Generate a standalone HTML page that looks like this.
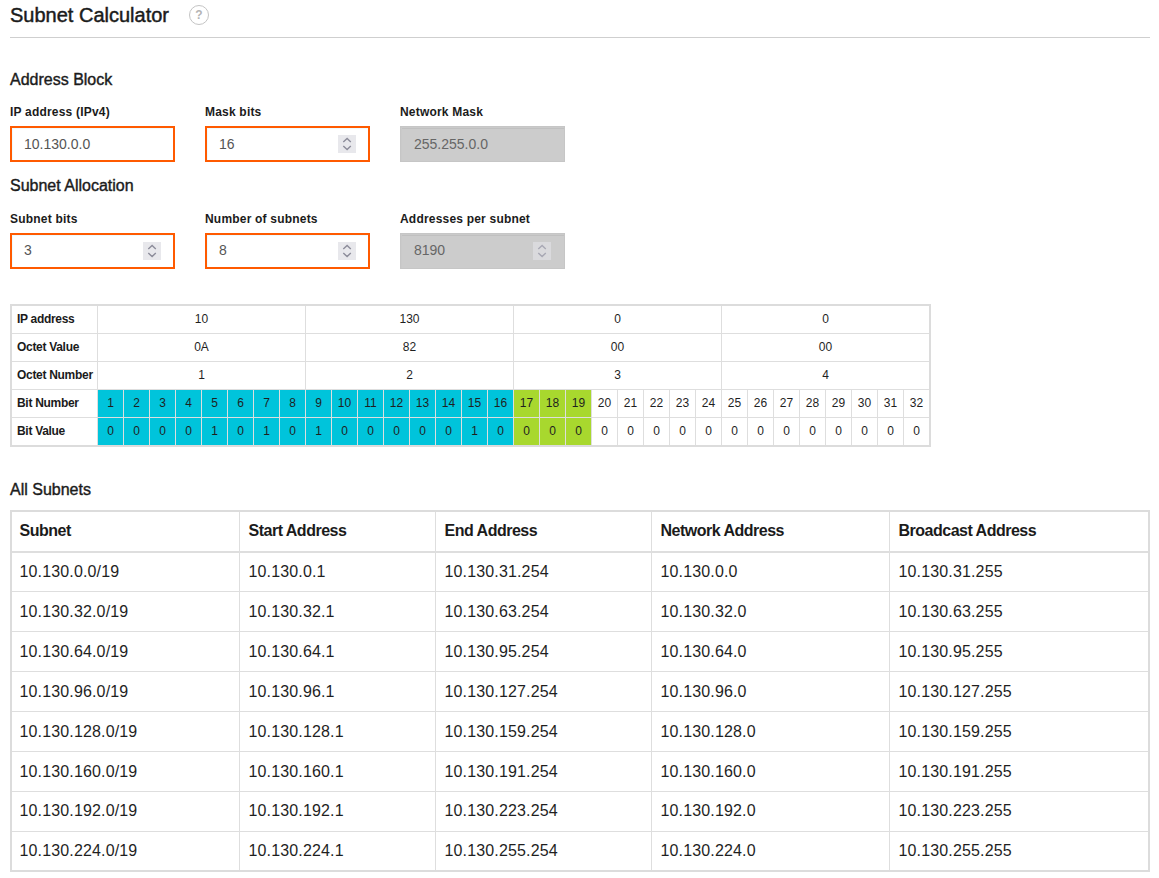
<!DOCTYPE html><html><head><meta charset="utf-8"><title>Subnet Calculator</title><style>
*{margin:0;padding:0;box-sizing:border-box}
html,body{width:1159px;height:878px;overflow:hidden;background:#fff}
body{position:relative;font-family:"Liberation Sans",sans-serif;color:#222}
.a{position:absolute;white-space:nowrap}
.t{line-height:1}
.title{font-size:20px;color:#1b1b1b;-webkit-text-stroke:0.45px #1b1b1b}
.sec{font-size:16px;color:#1b1b1b;-webkit-text-stroke:0.4px #1b1b1b}
.lbl{font-size:12px;font-weight:bold;color:#1b1b1b;letter-spacing:0.2px}
.help{width:20px;height:20px;border:1px solid #c4c4c4;border-radius:50%;font-size:12px;font-weight:bold;color:#b4b4b4;text-align:center;line-height:19px}
.hr{height:1px;background:#cfcfcf}
.inp{width:165px;height:36px;border:2px solid #ff5a00;background:#fff;box-shadow:inset 1px 1px 0 #effbfe}
.dis{width:165px;height:36px;border:1px solid #c6c6c6;background:#ccc;box-shadow:inset 0 1px 0 #cacaca,inset 1px 0 0 #cacaca,inset 0 2px 0 #c0c0c0}
.val{font-size:14px;color:#555}
.val.dv{color:#666}
.spin{width:18px;height:18px;background:#e8e8ec}
.spin.d{background:#dadadd}
.cell{font-size:12px;color:#1f1f1f;text-align:center;line-height:1}
.bl{font-size:12px;font-weight:bold;color:#1b1b1b;letter-spacing:-0.3px;line-height:1}
.ln{background:#dedede}
.th{font-size:16px;font-weight:bold;color:#1b1b1b;line-height:1;letter-spacing:-0.5px}
.td{font-size:16px;color:#1f1f1f;line-height:1;letter-spacing:0.15px}
</style></head><body>
<div class="a t title" style="left:10px;top:5.07px;">Subnet Calculator</div>
<div class="a help" style="left:189px;top:5px">?</div>
<div class="a hr" style="left:10px;top:37px;width:1140px"></div>
<div class="a t sec" style="left:10px;top:72.16px;">Address Block</div>
<div class="a t lbl" style="left:10px;top:105.54px;">IP address (IPv4)</div>
<div class="a inp" style="left:10px;top:126px"></div>
<div class="a t val" style="left:24px;top:137.15px;">10.130.0.0</div>
<div class="a t lbl" style="left:205px;top:105.54px;">Mask bits</div>
<div class="a inp" style="left:205px;top:126px"></div>
<div class="a t val" style="left:219px;top:137.15px;">16</div>
<div class="a spin" style="left:338px;top:135px"><svg width="18" height="18" viewBox="0 0 18 18"><path d="M5.3 6.9 L9.1 3.5 L12.8 6.9" fill="none" stroke="#8c8c9a" stroke-width="1.4"/><path d="M5.3 11.1 L9.1 14.5 L12.8 11.1" fill="none" stroke="#8c8c9a" stroke-width="1.4"/></svg></div>
<div class="a t lbl" style="left:400px;top:105.54px;">Network Mask</div>
<div class="a dis" style="left:400px;top:126px"></div>
<div class="a t val dv" style="left:414px;top:137.15px;">255.255.0.0</div>
<div class="a t sec" style="left:10px;top:178.06px;">Subnet Allocation</div>
<div class="a t lbl" style="left:10px;top:213.44px;">Subnet bits</div>
<div class="a inp" style="left:10px;top:233px"></div>
<div class="a t val" style="left:24px;top:243.15px;">3</div>
<div class="a spin" style="left:143px;top:242px"><svg width="18" height="18" viewBox="0 0 18 18"><path d="M5.3 6.9 L9.1 3.5 L12.8 6.9" fill="none" stroke="#8c8c9a" stroke-width="1.4"/><path d="M5.3 11.1 L9.1 14.5 L12.8 11.1" fill="none" stroke="#8c8c9a" stroke-width="1.4"/></svg></div>
<div class="a t lbl" style="left:205px;top:213.44px;">Number of subnets</div>
<div class="a inp" style="left:205px;top:233px"></div>
<div class="a t val" style="left:219px;top:243.15px;">8</div>
<div class="a spin" style="left:338px;top:242px"><svg width="18" height="18" viewBox="0 0 18 18"><path d="M5.3 6.9 L9.1 3.5 L12.8 6.9" fill="none" stroke="#8c8c9a" stroke-width="1.4"/><path d="M5.3 11.1 L9.1 14.5 L12.8 11.1" fill="none" stroke="#8c8c9a" stroke-width="1.4"/></svg></div>
<div class="a t lbl" style="left:400px;top:213.44px;">Addresses per subnet</div>
<div class="a dis" style="left:400px;top:233px"></div>
<div class="a t val dv" style="left:414px;top:243.15px;">8190</div>
<div class="a spin d" style="left:533px;top:242px"><svg width="18" height="18" viewBox="0 0 18 18"><path d="M5.3 6.9 L9.1 3.5 L12.8 6.9" fill="none" stroke="#a8a8b4" stroke-width="1.4"/><path d="M5.3 11.1 L9.1 14.5 L12.8 11.1" fill="none" stroke="#a8a8b4" stroke-width="1.4"/></svg></div>
<div class="a" style="left:10px;top:304px;width:921px;height:143px;border:2px solid #dcdcdc"></div>
<div class="a" style="left:98px;top:390px;width:25px;height:55px;background:#00c4db"></div>
<div class="a" style="left:124px;top:390px;width:25px;height:55px;background:#00c4db"></div>
<div class="a" style="left:150px;top:390px;width:25px;height:55px;background:#00c4db"></div>
<div class="a" style="left:176px;top:390px;width:25px;height:55px;background:#00c4db"></div>
<div class="a" style="left:202px;top:390px;width:25px;height:55px;background:#00c4db"></div>
<div class="a" style="left:228px;top:390px;width:25px;height:55px;background:#00c4db"></div>
<div class="a" style="left:254px;top:390px;width:25px;height:55px;background:#00c4db"></div>
<div class="a" style="left:280px;top:390px;width:25px;height:55px;background:#00c4db"></div>
<div class="a" style="left:306px;top:390px;width:25px;height:55px;background:#00c4db"></div>
<div class="a" style="left:332px;top:390px;width:25px;height:55px;background:#00c4db"></div>
<div class="a" style="left:358px;top:390px;width:25px;height:55px;background:#00c4db"></div>
<div class="a" style="left:384px;top:390px;width:25px;height:55px;background:#00c4db"></div>
<div class="a" style="left:410px;top:390px;width:25px;height:55px;background:#00c4db"></div>
<div class="a" style="left:436px;top:390px;width:25px;height:55px;background:#00c4db"></div>
<div class="a" style="left:462px;top:390px;width:25px;height:55px;background:#00c4db"></div>
<div class="a" style="left:488px;top:390px;width:25px;height:55px;background:#00c4db"></div>
<div class="a" style="left:514px;top:390px;width:25px;height:55px;background:#a8d82e"></div>
<div class="a" style="left:540px;top:390px;width:25px;height:55px;background:#a8d82e"></div>
<div class="a" style="left:566px;top:390px;width:25px;height:55px;background:#a8d82e"></div>
<div class="a ln" style="left:12px;top:333px;width:917px;height:1px"></div>
<div class="a ln" style="left:12px;top:361px;width:917px;height:1px"></div>
<div class="a ln" style="left:12px;top:389px;width:917px;height:1px"></div>
<div class="a ln" style="left:12px;top:417px;width:917px;height:1px"></div>
<div class="a ln" style="left:97px;top:306px;width:1px;height:139px"></div>
<div class="a ln" style="left:305px;top:306px;width:1px;height:83px"></div>
<div class="a ln" style="left:513px;top:306px;width:1px;height:83px"></div>
<div class="a ln" style="left:721px;top:306px;width:1px;height:83px"></div>
<div class="a ln" style="left:123px;top:389px;width:1px;height:56px"></div>
<div class="a ln" style="left:149px;top:389px;width:1px;height:56px"></div>
<div class="a ln" style="left:175px;top:389px;width:1px;height:56px"></div>
<div class="a ln" style="left:201px;top:389px;width:1px;height:56px"></div>
<div class="a ln" style="left:227px;top:389px;width:1px;height:56px"></div>
<div class="a ln" style="left:253px;top:389px;width:1px;height:56px"></div>
<div class="a ln" style="left:279px;top:389px;width:1px;height:56px"></div>
<div class="a ln" style="left:305px;top:389px;width:1px;height:56px"></div>
<div class="a ln" style="left:331px;top:389px;width:1px;height:56px"></div>
<div class="a ln" style="left:357px;top:389px;width:1px;height:56px"></div>
<div class="a ln" style="left:383px;top:389px;width:1px;height:56px"></div>
<div class="a ln" style="left:409px;top:389px;width:1px;height:56px"></div>
<div class="a ln" style="left:435px;top:389px;width:1px;height:56px"></div>
<div class="a ln" style="left:461px;top:389px;width:1px;height:56px"></div>
<div class="a ln" style="left:487px;top:389px;width:1px;height:56px"></div>
<div class="a ln" style="left:513px;top:389px;width:1px;height:56px"></div>
<div class="a ln" style="left:539px;top:389px;width:1px;height:56px"></div>
<div class="a ln" style="left:565px;top:389px;width:1px;height:56px"></div>
<div class="a ln" style="left:591px;top:389px;width:1px;height:56px"></div>
<div class="a ln" style="left:617px;top:389px;width:1px;height:56px"></div>
<div class="a ln" style="left:643px;top:389px;width:1px;height:56px"></div>
<div class="a ln" style="left:669px;top:389px;width:1px;height:56px"></div>
<div class="a ln" style="left:695px;top:389px;width:1px;height:56px"></div>
<div class="a ln" style="left:721px;top:389px;width:1px;height:56px"></div>
<div class="a ln" style="left:747px;top:389px;width:1px;height:56px"></div>
<div class="a ln" style="left:773px;top:389px;width:1px;height:56px"></div>
<div class="a ln" style="left:799px;top:389px;width:1px;height:56px"></div>
<div class="a ln" style="left:825px;top:389px;width:1px;height:56px"></div>
<div class="a ln" style="left:851px;top:389px;width:1px;height:56px"></div>
<div class="a ln" style="left:877px;top:389px;width:1px;height:56px"></div>
<div class="a ln" style="left:903px;top:389px;width:1px;height:56px"></div>
<div class="a t bl" style="left:17px;top:312.54px;">IP address</div>
<div class="a t bl" style="left:17px;top:340.54px;">Octet Value</div>
<div class="a t bl" style="left:17px;top:368.54px;">Octet Number</div>
<div class="a t bl" style="left:17px;top:396.54px;">Bit Number</div>
<div class="a t bl" style="left:17px;top:424.54px;">Bit Value</div>
<div class="a cell" style="left:98px;top:312.54px;width:207px">10</div>
<div class="a cell" style="left:306px;top:312.54px;width:207px">130</div>
<div class="a cell" style="left:514px;top:312.54px;width:207px">0</div>
<div class="a cell" style="left:722px;top:312.54px;width:207px">0</div>
<div class="a cell" style="left:98px;top:340.54px;width:207px">0A</div>
<div class="a cell" style="left:306px;top:340.54px;width:207px">82</div>
<div class="a cell" style="left:514px;top:340.54px;width:207px">00</div>
<div class="a cell" style="left:722px;top:340.54px;width:207px">00</div>
<div class="a cell" style="left:98px;top:368.54px;width:207px">1</div>
<div class="a cell" style="left:306px;top:368.54px;width:207px">2</div>
<div class="a cell" style="left:514px;top:368.54px;width:207px">3</div>
<div class="a cell" style="left:722px;top:368.54px;width:207px">4</div>
<div class="a cell" style="left:98px;top:396.54px;width:25px">1</div>
<div class="a cell" style="left:98px;top:424.54px;width:25px">0</div>
<div class="a cell" style="left:124px;top:396.54px;width:25px">2</div>
<div class="a cell" style="left:124px;top:424.54px;width:25px">0</div>
<div class="a cell" style="left:150px;top:396.54px;width:25px">3</div>
<div class="a cell" style="left:150px;top:424.54px;width:25px">0</div>
<div class="a cell" style="left:176px;top:396.54px;width:25px">4</div>
<div class="a cell" style="left:176px;top:424.54px;width:25px">0</div>
<div class="a cell" style="left:202px;top:396.54px;width:25px">5</div>
<div class="a cell" style="left:202px;top:424.54px;width:25px">1</div>
<div class="a cell" style="left:228px;top:396.54px;width:25px">6</div>
<div class="a cell" style="left:228px;top:424.54px;width:25px">0</div>
<div class="a cell" style="left:254px;top:396.54px;width:25px">7</div>
<div class="a cell" style="left:254px;top:424.54px;width:25px">1</div>
<div class="a cell" style="left:280px;top:396.54px;width:25px">8</div>
<div class="a cell" style="left:280px;top:424.54px;width:25px">0</div>
<div class="a cell" style="left:306px;top:396.54px;width:25px">9</div>
<div class="a cell" style="left:306px;top:424.54px;width:25px">1</div>
<div class="a cell" style="left:332px;top:396.54px;width:25px">10</div>
<div class="a cell" style="left:332px;top:424.54px;width:25px">0</div>
<div class="a cell" style="left:358px;top:396.54px;width:25px">11</div>
<div class="a cell" style="left:358px;top:424.54px;width:25px">0</div>
<div class="a cell" style="left:384px;top:396.54px;width:25px">12</div>
<div class="a cell" style="left:384px;top:424.54px;width:25px">0</div>
<div class="a cell" style="left:410px;top:396.54px;width:25px">13</div>
<div class="a cell" style="left:410px;top:424.54px;width:25px">0</div>
<div class="a cell" style="left:436px;top:396.54px;width:25px">14</div>
<div class="a cell" style="left:436px;top:424.54px;width:25px">0</div>
<div class="a cell" style="left:462px;top:396.54px;width:25px">15</div>
<div class="a cell" style="left:462px;top:424.54px;width:25px">1</div>
<div class="a cell" style="left:488px;top:396.54px;width:25px">16</div>
<div class="a cell" style="left:488px;top:424.54px;width:25px">0</div>
<div class="a cell" style="left:514px;top:396.54px;width:25px">17</div>
<div class="a cell" style="left:514px;top:424.54px;width:25px">0</div>
<div class="a cell" style="left:540px;top:396.54px;width:25px">18</div>
<div class="a cell" style="left:540px;top:424.54px;width:25px">0</div>
<div class="a cell" style="left:566px;top:396.54px;width:25px">19</div>
<div class="a cell" style="left:566px;top:424.54px;width:25px">0</div>
<div class="a cell" style="left:592px;top:396.54px;width:25px">20</div>
<div class="a cell" style="left:592px;top:424.54px;width:25px">0</div>
<div class="a cell" style="left:618px;top:396.54px;width:25px">21</div>
<div class="a cell" style="left:618px;top:424.54px;width:25px">0</div>
<div class="a cell" style="left:644px;top:396.54px;width:25px">22</div>
<div class="a cell" style="left:644px;top:424.54px;width:25px">0</div>
<div class="a cell" style="left:670px;top:396.54px;width:25px">23</div>
<div class="a cell" style="left:670px;top:424.54px;width:25px">0</div>
<div class="a cell" style="left:696px;top:396.54px;width:25px">24</div>
<div class="a cell" style="left:696px;top:424.54px;width:25px">0</div>
<div class="a cell" style="left:722px;top:396.54px;width:25px">25</div>
<div class="a cell" style="left:722px;top:424.54px;width:25px">0</div>
<div class="a cell" style="left:748px;top:396.54px;width:25px">26</div>
<div class="a cell" style="left:748px;top:424.54px;width:25px">0</div>
<div class="a cell" style="left:774px;top:396.54px;width:25px">27</div>
<div class="a cell" style="left:774px;top:424.54px;width:25px">0</div>
<div class="a cell" style="left:800px;top:396.54px;width:25px">28</div>
<div class="a cell" style="left:800px;top:424.54px;width:25px">0</div>
<div class="a cell" style="left:826px;top:396.54px;width:25px">29</div>
<div class="a cell" style="left:826px;top:424.54px;width:25px">0</div>
<div class="a cell" style="left:852px;top:396.54px;width:25px">30</div>
<div class="a cell" style="left:852px;top:424.54px;width:25px">0</div>
<div class="a cell" style="left:878px;top:396.54px;width:25px">31</div>
<div class="a cell" style="left:878px;top:424.54px;width:25px">0</div>
<div class="a cell" style="left:904px;top:396.54px;width:25px">32</div>
<div class="a cell" style="left:904px;top:424.54px;width:25px">0</div>
<div class="a t sec" style="left:10px;top:481.86px;">All Subnets</div>
<div class="a" style="left:10px;top:510px;width:1140px;height:362px;border:2px solid #dcdcdc"></div>
<div class="a ln" style="left:12px;top:551px;width:1136px;height:2px"></div>
<div class="a ln" style="left:12px;top:591px;width:1136px;height:1px"></div>
<div class="a ln" style="left:12px;top:631px;width:1136px;height:1px"></div>
<div class="a ln" style="left:12px;top:671px;width:1136px;height:1px"></div>
<div class="a ln" style="left:12px;top:711px;width:1136px;height:1px"></div>
<div class="a ln" style="left:12px;top:751px;width:1136px;height:1px"></div>
<div class="a ln" style="left:12px;top:791px;width:1136px;height:1px"></div>
<div class="a ln" style="left:12px;top:831px;width:1136px;height:1px"></div>
<div class="a ln" style="left:239px;top:512px;width:1px;height:358px"></div>
<div class="a ln" style="left:435px;top:512px;width:1px;height:358px"></div>
<div class="a ln" style="left:651px;top:512px;width:1px;height:358px"></div>
<div class="a ln" style="left:889px;top:512px;width:1px;height:358px"></div>
<div class="a t th" style="left:19.5px;top:523.46px;">Subnet</div>
<div class="a t th" style="left:248.5px;top:523.46px;">Start Address</div>
<div class="a t th" style="left:444.5px;top:523.46px;">End Address</div>
<div class="a t th" style="left:660.5px;top:523.46px;">Network Address</div>
<div class="a t th" style="left:898.5px;top:523.46px;">Broadcast Address</div>
<div class="a t td" style="left:19.5px;top:564.06px;">10.130.0.0/19</div>
<div class="a t td" style="left:248.5px;top:564.06px;">10.130.0.1</div>
<div class="a t td" style="left:444.5px;top:564.06px;">10.130.31.254</div>
<div class="a t td" style="left:660.5px;top:564.06px;">10.130.0.0</div>
<div class="a t td" style="left:898.5px;top:564.06px;">10.130.31.255</div>
<div class="a t td" style="left:19.5px;top:604.06px;">10.130.32.0/19</div>
<div class="a t td" style="left:248.5px;top:604.06px;">10.130.32.1</div>
<div class="a t td" style="left:444.5px;top:604.06px;">10.130.63.254</div>
<div class="a t td" style="left:660.5px;top:604.06px;">10.130.32.0</div>
<div class="a t td" style="left:898.5px;top:604.06px;">10.130.63.255</div>
<div class="a t td" style="left:19.5px;top:644.06px;">10.130.64.0/19</div>
<div class="a t td" style="left:248.5px;top:644.06px;">10.130.64.1</div>
<div class="a t td" style="left:444.5px;top:644.06px;">10.130.95.254</div>
<div class="a t td" style="left:660.5px;top:644.06px;">10.130.64.0</div>
<div class="a t td" style="left:898.5px;top:644.06px;">10.130.95.255</div>
<div class="a t td" style="left:19.5px;top:684.06px;">10.130.96.0/19</div>
<div class="a t td" style="left:248.5px;top:684.06px;">10.130.96.1</div>
<div class="a t td" style="left:444.5px;top:684.06px;">10.130.127.254</div>
<div class="a t td" style="left:660.5px;top:684.06px;">10.130.96.0</div>
<div class="a t td" style="left:898.5px;top:684.06px;">10.130.127.255</div>
<div class="a t td" style="left:19.5px;top:724.06px;">10.130.128.0/19</div>
<div class="a t td" style="left:248.5px;top:724.06px;">10.130.128.1</div>
<div class="a t td" style="left:444.5px;top:724.06px;">10.130.159.254</div>
<div class="a t td" style="left:660.5px;top:724.06px;">10.130.128.0</div>
<div class="a t td" style="left:898.5px;top:724.06px;">10.130.159.255</div>
<div class="a t td" style="left:19.5px;top:764.06px;">10.130.160.0/19</div>
<div class="a t td" style="left:248.5px;top:764.06px;">10.130.160.1</div>
<div class="a t td" style="left:444.5px;top:764.06px;">10.130.191.254</div>
<div class="a t td" style="left:660.5px;top:764.06px;">10.130.160.0</div>
<div class="a t td" style="left:898.5px;top:764.06px;">10.130.191.255</div>
<div class="a t td" style="left:19.5px;top:803.06px;">10.130.192.0/19</div>
<div class="a t td" style="left:248.5px;top:803.06px;">10.130.192.1</div>
<div class="a t td" style="left:444.5px;top:803.06px;">10.130.223.254</div>
<div class="a t td" style="left:660.5px;top:803.06px;">10.130.192.0</div>
<div class="a t td" style="left:898.5px;top:803.06px;">10.130.223.255</div>
<div class="a t td" style="left:19.5px;top:843.06px;">10.130.224.0/19</div>
<div class="a t td" style="left:248.5px;top:843.06px;">10.130.224.1</div>
<div class="a t td" style="left:444.5px;top:843.06px;">10.130.255.254</div>
<div class="a t td" style="left:660.5px;top:843.06px;">10.130.224.0</div>
<div class="a t td" style="left:898.5px;top:843.06px;">10.130.255.255</div>
</body></html>
